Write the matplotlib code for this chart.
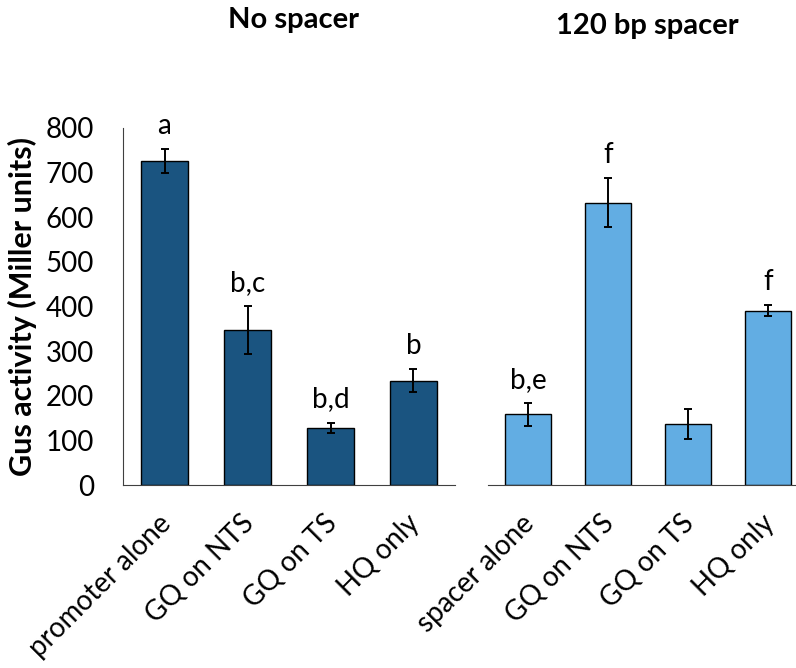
import matplotlib
matplotlib.use("Agg")
import matplotlib.pyplot as plt
import matplotlib.transforms as mtransforms
import numpy as np

plt.rcParams['font.family'] = ['Lato', 'DejaVu Sans']

# -------------------- data --------------------
left_labels = ["promoter alone", "GQ on NTS", "GQ on TS", "HQ only"]
left_values = [726, 347, 128, 234]
left_errors = [27, 54, 12, 26]
left_letters = ["a", "b,c", "b,d", "b"]

right_labels = ["spacer alone", "GQ on NTS", "GQ on TS", "HQ only"]
right_values = [158, 633, 137, 391]
right_errors = [26, 54, 33, 12]
right_letters = ["b,e", "f", "", "f"]

y_ticks = [0, 100, 200, 300, 400, 500, 600, 700, 800]

dark_blue = "#1A5480"
light_blue = "#62ADE3"

fig = plt.figure(figsize=(7.96, 6.68), dpi=100)
ax_l = fig.add_axes([123 / 796, 183 / 668, 332 / 796, 357 / 668])
ax_r = fig.add_axes([488 / 796, 183 / 668, 320 / 796, 357 / 668])

# nudge rotated labels a bit left/up, like the original
label_shift = mtransforms.ScaledTranslation(-5 / 72, 4 / 72, fig.dpi_scale_trans)


def draw_panel(ax, labels, values, errors, letters, color, width):
    x = np.arange(len(labels))
    ax.bar(x, values, width=width, color=color, edgecolor="black", linewidth=1.0, zorder=2)
    ax.errorbar(x, values, yerr=errors, fmt="none", ecolor="black",
                elinewidth=1.4, capsize=3, capthick=1.4, zorder=3)
    for xi, v, e, t in zip(x, values, errors, letters):
        if t:
            ax.annotate(t, (xi, v + e), xytext=(0, 11), textcoords="offset points",
                        ha="center", va="baseline", fontsize=20)
    ax.set_xlim(-0.5, len(labels) - 0.5)
    ax.set_ylim(0, 800)
    ax.set_xticks(x)
    ax.set_xticklabels(labels, rotation=45, ha="right", rotation_mode="anchor", fontsize=20)
    ax.tick_params(axis="x", length=0, pad=22)
    for lbl in ax.get_xticklabels():
        lbl.set_transform(lbl.get_transform() + label_shift)
    for s in ["top", "right"]:
        ax.spines[s].set_visible(False)
    ax.spines["bottom"].set_color("#404040")
    ax.spines["left"].set_color("#404040")


draw_panel(ax_l, left_labels, left_values, left_errors, left_letters, dark_blue, 0.57)
draw_panel(ax_r, right_labels, right_values, right_errors, right_letters, light_blue, 0.575)

ax_l.set_yticks(y_ticks)
ax_l.tick_params(axis="y", length=0, pad=21, labelsize=20)
ax_l.set_ylabel("Gus activity (Miller units)", fontsize=22, fontweight="bold", labelpad=6)

ax_r.spines["left"].set_visible(False)
ax_r.set_yticks([])

fig.text(294 / 796, 1 - 20 / 668, "No spacer", ha="center", va="center",
         fontsize=21, fontweight="bold")
fig.text(647 / 796, 1 - 26 / 668, "120 bp spacer", ha="center", va="center",
         fontsize=21, fontweight="bold")

fig.savefig("out.png", dpi=100)
